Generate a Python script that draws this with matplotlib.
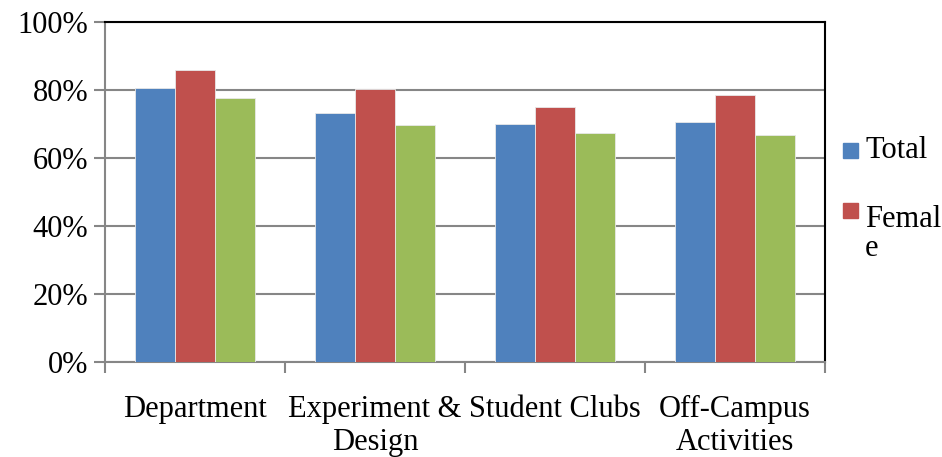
import numpy as np
import matplotlib
matplotlib.use("Agg")
import matplotlib.pyplot as plt
from matplotlib.patches import Rectangle
from matplotlib.ticker import FixedLocator, PercentFormatter

plt.rcParams['font.family'] = ['Liberation Serif', 'DejaVu Serif']

categories = ["Department", "Experiment &\nDesign", "Student Clubs", "Off-Campus\nActivities"]
total = [80.5, 73.3, 70.0, 70.6]
female = [86.0, 80.2, 75.1, 78.5]
male = [77.6, 69.8, 67.4, 66.7]
legend_labels = ["Total", "Femal\ne"]

colors = ["#4F81BD", "#C0504D", "#9BBB59"]
fs = 22

fig = plt.figure(figsize=(9.42, 4.57), dpi=100)
ax = fig.add_axes([105 / 942, 95 / 457, 720 / 942, 340 / 457])

x = np.arange(len(categories))
w = 2 / 9
for i, (vals, c) in enumerate(zip([total, female, male], colors)):
    ax.bar(x + (i - 1) * w, vals, width=w, color=c, edgecolor="#e8e8e8",
           linewidth=0.6, zorder=3)

ax.set_xlim(-0.5, len(categories) - 0.5)
ax.set_ylim(0, 100)

# gridlines and axes
ax.set_yticks(np.arange(0, 101, 20))
ax.yaxis.set_major_formatter(PercentFormatter(decimals=0))
ax.grid(axis="y", color="#868686", linewidth=1.5, zorder=0)
ax.set_axisbelow(True)

ax.set_xticks(x)
ax.set_xticklabels(categories, linespacing=1.15)
ax.xaxis.set_minor_locator(FixedLocator(np.arange(-0.5, len(categories), 1)))
ax.tick_params(axis="x", which="major", length=0, pad=24, labelsize=fs)
ax.tick_params(axis="x", which="minor", length=8, width=1.5, color="#868686", direction="out")
ax.tick_params(axis="y", length=8, width=1.5, color="#868686", labelsize=fs, pad=4)

for s in ["left", "bottom"]:
    ax.spines[s].set_color("#868686")
    ax.spines[s].set_linewidth(1.5)
for s in ["top", "right"]:
    ax.spines[s].set_color("black")
    ax.spines[s].set_linewidth(1.5)

# legend drawn by hand so the wrapped label sits under its marker
for yy, c in zip([150, 210], colors[:2]):
    fig.add_artist(Rectangle((843 / 942, (457 - yy - 7.5) / 457), 15 / 942, 15 / 457,
                             transform=fig.transFigure, color=c))
fig.text(865 / 942, (457 - 158) / 457, legend_labels[0], fontsize=fs, va="baseline", ha="left")
fig.text(865 / 942, (457 - 256) / 457, legend_labels[1], fontsize=fs, va="baseline", ha="left",
         linespacing=1.0, multialignment="left")

fig.savefig("out.png", dpi=100)
